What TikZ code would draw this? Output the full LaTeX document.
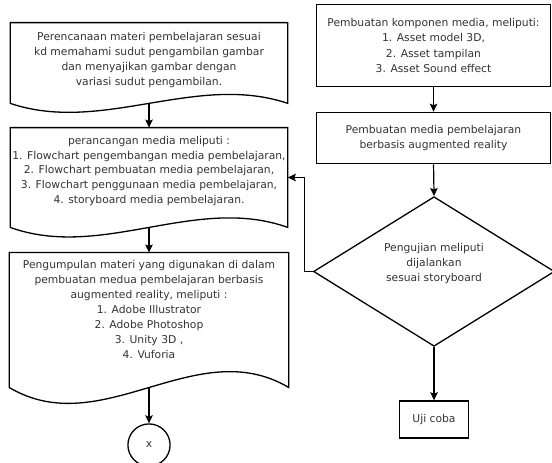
\documentclass[tikz,border=0pt]{standalone}
\usepackage{fontspec}
\setmainfont{DejaVu Sans}
\usetikzlibrary{arrows.meta,shapes.geometric}

\tikzset{
  boxtext/.style={align=center, text=black!80, font=\fontsize{10.7}{15}\selectfont},
  body/.style={draw=none, minimum height=#1},
  box/.style={draw=black, line width=1.3pt, boxtext},
  flow/.style={draw=black, line width=1.2pt, -{Stealth[length=8pt,width=7.5pt,inset=1.5pt]}}
}

\begin{document}
\begin{tikzpicture}[scale=0.35]
\tikzstyle{every node}+=[inner sep=0pt]
\useasboundingbox (0,0) rectangle (55.2,-46.2);
% left column: documents
\node [body=80pt, minimum width=276pt] (perencanaan) at (14.9,-6.3) {};
\draw [black, line width=1.3pt] (perencanaan.north west) -- (perencanaan.north east) -- (perencanaan.south east) .. controls +(-9.2,3.1) and +(9.2,-3.1) .. (perencanaan.south west) -- cycle;
\node [boxtext] (perencanaan text) at (14.9,-6.0) {Perencanaan materi pembelajaran sesuai\\kd memahami sudut pengambilan gambar\\dan menyajikan gambar dengan\\variasi sudut pengambilan.};
\node [body=99pt, minimum width=276pt] (perancangan) at (14.9,-17.75) {};
\draw [black, line width=1.3pt] (perancangan.north west) -- (perancangan.north east) -- (perancangan.south east) .. controls +(-9.2,3.3) and +(9.2,-3.3) .. (perancangan.south west) -- cycle;
\node [boxtext, font=\fontsize{10.7}{14.5}\selectfont] (perancangan text) at (14.9,-17.1) {perancangan media meliputi :\\1. Flowchart pengembangan media pembelajaran,\\2. Flowchart pembuatan media pembelajaran,\\3. Flowchart penggunaan media pembelajaran,\\4. storyboard media pembelajaran.};
\node [body=134pt, minimum width=278pt] (pengumpulan) at (14.9,-32) {};
\draw [black, line width=1.3pt] (pengumpulan.north west) -- (pengumpulan.north east) -- (pengumpulan.south east) .. controls +(-9.3,5.5) and +(9.3,-5.5) .. (pengumpulan.south west) -- cycle;
\node [boxtext] (pengumpulan text) at (14.9,-30.95) {Pengumpulan materi yang digunakan di dalam\\pembuatan medua pembelajaran berbasis\\augmented reality, meliputi :\\1. Adobe Illustrator\\2. Adobe Photoshop\\3. Unity 3D ,\\4. Vuforia};
\node [box, circle, minimum size=42pt] (x) at (14.9,-44.5) {x};
% right column
\node [box, minimum width=233pt, minimum height=81pt] (komponen) at (43.35,-4.55) {Pembuatan komponen media, meliputi:\\1. Asset model 3D,\\2. Asset tampilan\\3. Asset Sound effect};
\node [box, minimum width=233pt, minimum height=51pt] (pembuatan) at (43.35,-13.8) {Pembuatan media pembelajaran\\berbasis augmented reality};
\node [draw=black, line width=1.3pt, diamond, minimum width=240pt, minimum height=149pt] (pengujian) at (43.4,-27.15) {};
\node [boxtext] (pengujian text) at (43.4,-26.35) {Pengujian meliputi\\dijalankan\\sesuai storyboard};
\node [box, minimum width=69pt, minimum height=37pt] (ujicoba) at (43.4,-41.95) {Uji coba};
% connectors
\draw [flow] (perencanaan.south) -- (perancangan.north);
\draw [flow] (perancangan.south) -- (pengumpulan.north);
\draw [flow] (pengumpulan.south) -- (x.north);
\draw [flow] (komponen.south) -- (pembuatan.north);
\draw [flow] (pembuatan.south) -- (pengujian.north);
\draw [flow] (pengujian.south) -- (ujicoba.north);
\draw [flow] (pengujian.west) -- ++(-0.8,0) |- (perancangan.east);
\end{tikzpicture}
\end{document}
